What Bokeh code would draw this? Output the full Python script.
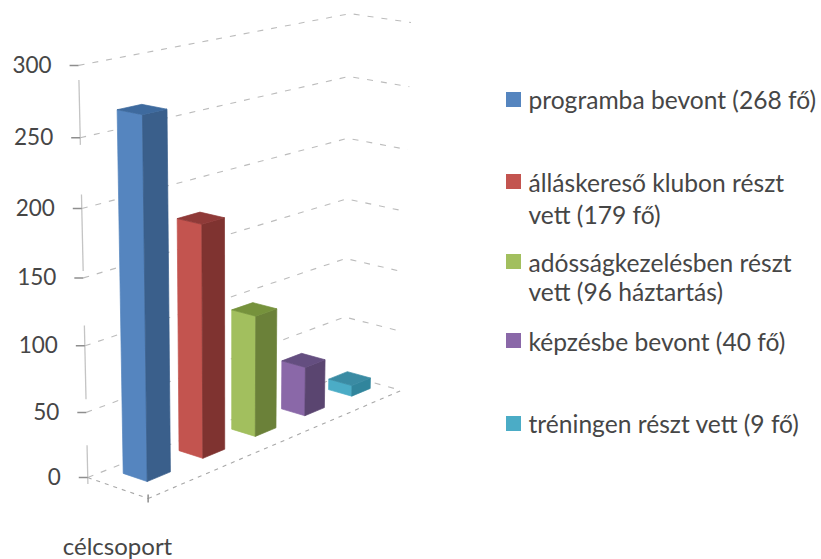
import numpy as np
from bokeh.plotting import figure
from bokeh.models import ColumnDataSource
from bokeh.core.properties import value
from bokeh.embed import file_html
from bokeh.resources import INLINE

category = ["célcsoport"]
series_values = [268, 179, 96, 40, 9]
legend_lines = [["programba bevont (268 fő)"],
                ["álláskereső klubon részt", "vett (179 fő)"],
                ["adósságkezelésben részt", "vett (96 háztartás)"],
                ["képzésbe bevont (40 fő)"],
                ["tréningen részt vett (9 fő)"]]
tick_values = [0, 50, 100, 150, 200, 250, 300]

face_left = ["#5585BF", "#C3544F", "#A2BF5E", "#8A68A8", "#4BACC6"]
face_right = ["#3A5F8B", "#7F3330", "#6B8139", "#5A4570", "#31859C"]
face_top = ["#3E6A9E", "#8F3A38", "#76923C", "#644E80", "#3A8BA3"]
legend_y = [[99], [182, 214], [262, 291], [341], [423]]
swatch_y = [99, 181, 261, 340, 423]

W, H = 821, 559
FONT = "Lato"
VMAX = 300.0

# camera calibration: (u along series, d depth, h height share) -> picture position
calib_3d = [(0, 0, 0), (0, 0, 1), (0, 1, 0), (1, 1, 0), (1, 1, 1), (1, 0, 0), (1, 0, 1)]
calib_2d = [(87, 476), (78, 65), (148, 499), (401, 389), (410, 22), (343, 375), (350, 13)]
rows, rhs = [], []
for (X, Y, Z), (x, y) in zip(calib_3d, calib_2d):
    rows.append([X, Y, Z, 1, 0, 0, 0, 0, -x * X, -x * Y, -x * Z]); rhs.append(x)
    rows.append([0, 0, 0, 0, X, Y, Z, 1, -y * X, -y * Y, -y * Z]); rhs.append(y)
M = np.append(np.linalg.lstsq(np.array(rows, float), np.array(rhs, float), rcond=None)[0], 1).reshape(3, 4)


def proj(u, d, v):
    q = M @ np.array([u, d, v / VMAX, 1.0])
    return q[0] / q[2], q[1] / q[2]


p = figure(width=W, height=H, x_range=(0, W), y_range=(H, 0),
           output_backend="svg", toolbar_location=None,
           x_axis_type=None, y_axis_type=None, min_border=0, outline_line_color=None)
p.grid.visible = False
p.background_fill_color = "white"

# wall gridlines
gx, gy = [], []
for t in tick_values:
    a, b, c = proj(0, 0, t), proj(1, 0, t), proj(1, 1, t)
    gx.append([a[0], b[0], c[0]]); gy.append([a[1], b[1], c[1]])
p.multi_line(gx, gy, line_color="#bcbcbc", line_width=1.1, line_dash="6 8")

# floor edges
fx, fy = [], []
for s, e in (((0, 0), (0, 1)), ((0, 1), (1, 1))):
    a, b = proj(*s, 0), proj(*e, 0)
    fx.append([a[0], b[0]]); fy.append([a[1], b[1]])
p.multi_line(fx, fy, line_color="#a8a8a8", line_width=1.1, line_dash="4 5")

# axis with its ticks
ax, ay = [], []
for lo, hi in ((-5, 25), (60, 115), (155, 210), (245, 290)):
    a, b = proj(0, 0, lo), proj(0, 0, hi)
    ax.append([a[0], b[0]]); ay.append([a[1], b[1]])
p.multi_line(ax, ay, line_color="#c4c4c4", line_width=1.3)
tx, ty = [], []
for t in tick_values:
    a = proj(0, 0, t)
    tx.append([a[0] - 9, a[0]]); ty.append([a[1], a[1]])
b = proj(0, 1, 0)
tx.append([b[0], b[0]]); ty.append([b[1] - 4, b[1] + 4])
p.multi_line(tx, ty, line_color="#8e8e8e", line_width=1.5)

p.text([proj(0, 0, t)[0] - 27 for t in tick_values], [proj(0, 0, t)[1] - 1 for t in tick_values],
       text=[str(t) for t in tick_values], text_align="right", text_baseline="middle",
       text_font=value(FONT), text_font_size="22.5px", text_color="#464646")

# bars
U0, STEP, BW, D0, D1 = 0.075, 0.2, 0.082, 0.23, 0.63
xs, ys, cols = [], [], []
for i, v in enumerate(series_values):
    u0, u1 = U0 + i * STEP, U0 + i * STEP + BW
    faces = [([(u0, D0), (u0, D1)], face_left[i]), ([(u0, D1), (u1, D1)], face_right[i])]
    for (s, e), col in faces:
        pts = [proj(*s, 0), proj(*e, 0), proj(*e, v), proj(*s, v)]
        xs.append([q[0] for q in pts]); ys.append([q[1] for q in pts]); cols.append(col)
    pts = [proj(u0, D0, v), proj(u0, D1, v), proj(u1, D1, v), proj(u1, D0, v)]
    xs.append([q[0] for q in pts]); ys.append([q[1] for q in pts]); cols.append(face_top[i])
p.patches("xs", "ys", source=ColumnDataSource(dict(xs=xs, ys=ys, c=cols)),
          fill_color="c", line_color="c", line_width=0.7)

# category label
p.text([117], [545], text=category, text_align="center", text_baseline="middle",
       text_font=value(FONT), text_font_size="24px", text_color="#464646")

# legend
p.rect([513] * 5, swatch_y, width=15, height=15, fill_color=face_left, line_color=None)
lx, ly, lt = [], [], []
for lines, ypos in zip(legend_lines, legend_y):
    for s, yy in zip(lines, ypos):
        lx.append(528); ly.append(yy); lt.append(s)
p.text(lx, ly, text=lt, text_align="left", text_baseline="middle",
       text_font=value(FONT), text_font_size="24.6px", text_color="#464646")

open("out.html", "w").write(file_html(p, INLINE))
